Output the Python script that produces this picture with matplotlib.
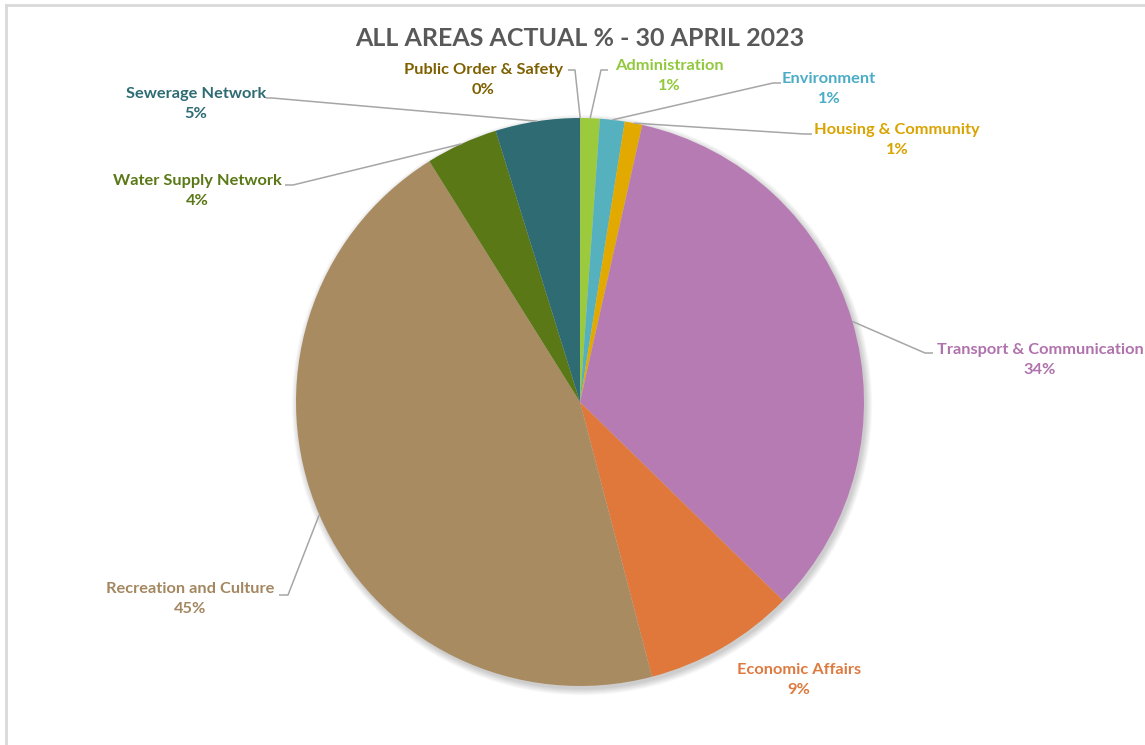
import numpy as np
import matplotlib.pyplot as plt
from matplotlib.lines import Line2D
from matplotlib.patches import Circle

# spending share by area, clockwise from 12 o'clock
sectors = ["Public Order & Safety", "Administration", "Environment",
           "Housing & Community", "Transport & Communication",
           "Economic Affairs", "Recreation and Culture",
           "Water Supply Network", "Sewerage Network"]
actual_pct = [0.02, 1.1, 1.4, 1.0, 33.8, 8.6, 45.18, 4.1, 4.8]
title = "ALL AREAS ACTUAL % - 30 APRIL 2023"

slice_colors = ["#7F6000", "#9BCB3C", "#56B1BF", "#E2AA00", "#B77BB4",
                "#E0783C", "#A98B62", "#5A7816", "#2E6B73"]
text_colors = ["#7F6000", "#92C83E", "#4BACC6", "#D9A300", "#B072AD",
               "#DD7A40", "#A38760", "#5A7816", "#2E6B73"]

W, H = 1145, 745
CX, CY, R = 580, H - 402, 284

# label centre (x, y from top) and leader elbow / end, all in pixels
label_pos = [(483, 80), (669, 76), (829, 89), (897, 140), (1040, 360),
             (799, 680), (190, 599), (197, 191), (196, 104)]
leader = [((575, 70), (568, 70)), ((601, 70), (608, 70)),
          ((773, 83), (781, 83)), ((804, 134), (812, 134)),
          ((925, 353), (933, 353)), None,
          ((288, 595), (279, 595)), ((293, 185), (285, 185)),
          ((272, 98), (266, 98))]

plt.rcParams['font.family'] = ['Lato', 'DejaVu Sans']

fig = plt.figure(figsize=(W / 100, H / 100), dpi=100)
ax = fig.add_axes([0, 0, 1, 1])

# frame of the chart area (only top and left edges fall inside)
ax.add_line(Line2D([5.5, 5.5], [0, H - 5], color="#D9D9D9", lw=2))
ax.add_line(Line2D([5.5, W], [H - 5, H - 5], color="#D9D9D9", lw=2))

# soft drop shadow under the pie
for i in range(10):
    ax.add_patch(Circle((CX + 2, CY - 3), R + i * 0.7, color="black",
                        alpha=0.02, lw=0, zorder=1))

wedges, _ = ax.pie(actual_pct, colors=slice_colors, startangle=90,
                   counterclock=False, center=(CX, CY), radius=R,
                   wedgeprops=dict(linewidth=0, zorder=2), frame=True)
ax.set_xlim(0, W)
ax.set_ylim(0, H)
ax.set_aspect('equal')
ax.axis('off')

total = sum(actual_pct)
for w, name, val, col, (lx, ly), ld in zip(wedges, sectors, actual_pct,
                                           text_colors, label_pos, leader):
    pct = f"{round(val / total * 100):.0f}%"
    ax.text(lx, H - ly, f"{name}\n{pct}", ha="center", va="center",
            color=col, fontsize=11.8, fontweight="bold", linespacing=1.6,
            zorder=5)
    if ld is None:
        continue
    mid = np.deg2rad((w.theta1 + w.theta2) / 2)
    px, py = CX + R * np.cos(mid), CY + R * np.sin(mid)
    (ex, ey), (tx, ty) = ld
    ax.plot([px, ex, tx], [py, H - ey, H - ty], color="#A6A6A6", lw=1.1,
            zorder=4, solid_capstyle="butt")

ax.text(CX, H - 38, title, ha="center", va="center", color="#595959",
        fontsize=18, fontweight="bold")

fig.savefig("out.png", dpi=100)
